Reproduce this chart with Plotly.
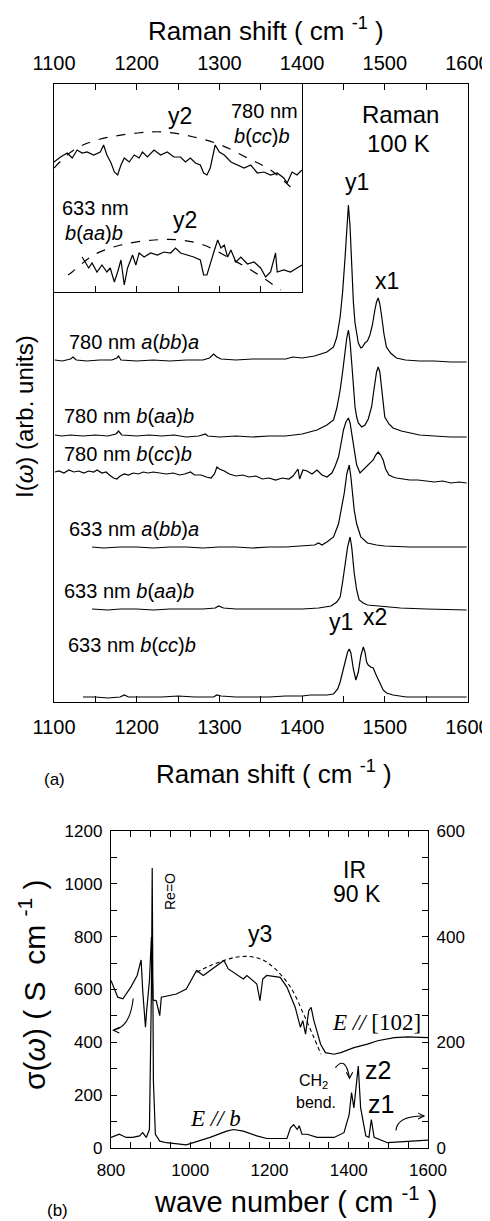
import plotly.graph_objects as go

# The page body has an 8 px margin, so the figure is 8 px smaller and every
# reference position is shifted by -8 px.
OFF = 8
W, H = 490 - OFF, 1221 - OFF
FONT = "Arial, Liberation Sans, sans-serif"
SERIF = "Times New Roman, Liberation Serif, serif"

# ---------------- Panel (a): Raman, 100 K (arbitrary units, offset traces) -------------
r780_abba_x = [1101,1110,1120,1123,1127,1140,1155,1170,1176,1178,1181,1200,1220,1240,1260,1280,1288,1293,1297,1302,
               1320,1340,1360,1380,1389,1400,1415,1422,1430,1438,1442,1446,1449,1452,1454,1456,1458,1460,1462,1464,
               1466,1468,1471,1473,1476,1479,1482,1485,1488,1490,1492,1494,1496,1499,1502,1507,1514,1525,1542,1560,1580,1599]
r780_abba_y = [342,341,343,345,342,341,342,342,344,346,342,341,342,341,342,342,344,348,345,343,
               342,343,343,343,345,344,346,348,350,355,365,385,410,445,475,497,475,429,400,379,
               367,359,354,355,359,361,367,377,392,400,404,398,387,368,355,349,344,342,341,341,340,340]

r780_baab_x = [1101,1110,1120,1135,1150,1165,1175,1178,1182,1200,1215,1230,1245,1260,1275,1283,1286,1300,1320,1340,
               1360,1380,1400,1418,1430,1438,1442,1446,1449,1452,1454,1456,1458,1460,1462,1464,1466,1468,1472,1476,
               1480,1484,1487,1490,1492,1494,1496,1498,1500,1505,1510,1520,1530,1542,1560,1580,1599]
r780_baab_y = [267,266,267,266,267,266,268,271,267,266,267,266,267,265,266,268,266,265,266,265,
               266,266,268,272,277,282,294,312,330,352,364,372,360,339,315,295,285,279,275,277,
               283,295,313,330,335,330,315,298,285,278,274,271,269,267,266,265,265]

r780_bccb_x = [1101,1106,1112,1118,1124,1130,1136,1142,1148,1152,1158,1163,1167,1172,1176,1180,1185,1190,1196,1202,
               1208,1214,1220,1228,1236,1244,1252,1258,1265,1270,1278,1284,1290,1294,1297,1300,1306,1312,1320,1328,
               1336,1344,1352,1360,1368,1376,1384,1389,1393,1395,1397,1401,1406,1412,1418,1424,1430,1436,1440,1444,
               1447,1450,1453,1456,1458,1460,1463,1466,1470,1474,1478,1482,1486,1489,1492,1495,1498,1501,1505,1510,
               1514,1522,1530,1540,1550,1560,1570,1580,1590,1599]
r780_bccb_y = [230,231,229,232,230,231,229,231,230,232,229,230,227,224,223,226,228,227,229,228,
               230,229,230,229,228,229,227,228,230,227,227,225,224,228,235,233,231,228,226,227,
               225,226,223,224,222,224,223,226,231,233,223,232,231,228,232,227,225,229,236,245,
               258,272,280,284,279,269,252,237,229,232,235,238,242,247,250,247,242,233,227,225,
               224,223,222,222,221,220,221,219,220,219]

r633_abba_x = [1146,1160,1180,1200,1220,1240,1260,1280,1300,1320,1340,1360,1380,1400,1415,1420,1424,1430,1438,1444,
               1448,1451,1454,1457,1459,1461,1463,1466,1471,1479,1490,1500,1530,1560,1599]
r633_abba_y = [155,154,155,155,154,155,155,154,155,155,154,155,155,156,157,159,157,160,165,178,
               195,209,228,237,225,205,192,178,165,159,157,156,155,155,155]

r633_baab_x = [1146,1165,1180,1200,1220,1240,1260,1280,1295,1299,1305,1320,1340,1360,1380,1400,1420,1435,1442,1446,
               1449,1452,1455,1458,1460,1463,1466,1469,1474,1479,1490,1519,1550,1599]
r633_baab_y = [93,92,93,93,92,93,93,93,94,96,94,93,93,93,93,93,94,96,100,105,
               120,139,155,165,155,129,112,102,99,97,96,94,93,92]

r633_bccb_x = [1135,1150,1165,1180,1185,1190,1210,1230,1250,1270,1293,1297,1302,1320,1340,1360,1380,1400,1410,1420,
               1430,1438,1443,1446,1449,1452,1455,1457,1459,1462,1465,1468,1471,1474,1476,1478,1480,1483,1486,1489,
               1494,1498,1502,1510,1526,1560,1599]
r633_bccb_y = [5,5,4,5,7,5,5,5,6,5,5,7,6,5,5,5,6,6,7,7,
               7,8,13,20,30,42,50,53,49,33,22,30,46,55,50,40,37,35,34,28,
               19,12,9,7,5,5,5]

# ---------------- Inset: enlarged 1100-1400 region --------------------------------------
ins780_x = [1100,1108,1116,1122,1128,1134,1140,1148,1156,1160,1164,1169,1173,1177,1181,1185,1191,1197,1203,1207,
            1213,1221,1229,1237,1245,1253,1259,1265,1271,1277,1281,1285,1289,1293,1295,1300,1306,1314,1322,1330,
            1338,1346,1354,1362,1370,1378,1382,1388,1394,1400]
ins780_y = [130,135,139,134,142,139,140,137,140,147,137,129,120,117,127,134,130,137,134,140,
            135,142,137,140,135,135,130,134,129,127,119,117,124,140,147,140,137,130,127,124,
            127,119,120,117,119,114,109,120,117,122]
ins780_fit_x = [1100,1124,1152,1201,1233,1269,1302,1334,1362,1386]
ins780_fit_y = [124,142,152,159,160,155,147,134,122,105]

ins633_x = [1134,1138,1142,1146,1152,1158,1164,1168,1173,1177,1181,1185,1189,1195,1199,1203,1209,1217,1225,1233,
            1241,1247,1253,1261,1269,1277,1281,1285,1289,1293,1298,1302,1306,1310,1314,1320,1326,1334,1342,1350,
            1356,1362,1368,1370,1378,1386,1394,1400]
ins633_y = [35,30,24,29,20,27,20,24,10,20,32,7,24,37,27,39,35,39,37,40,
            39,44,39,37,35,32,17,17,27,39,52,44,47,35,42,30,35,28,30,24,
            15,20,39,20,22,20,24,27]
ins633_fit_x = [1117,1122,1148,1181,1221,1253,1281,1310,1342,1374]
ins633_fit_y = [17,20,37,47,52,52,47,35,20,2]

# ---------------- Panel (b): IR, 90 K ---------------------------------------------------
ir_102_x = [800,817,830,850,866,876,880,887,890,897,902,906,914,923,927,965,990,1016,1033,1050,
            1085,1096,1134,1143,1168,1176,1183,1193,1227,1244,1265,1278,1284,1291,1299,1305,1312,1329,1341,1363,
            1380,1413,1447,1473,1515,1549,1600]
ir_102_y = [634,571,565,609,653,712,596,457,520,634,800,560,558,501,571,583,602,672,653,672,
            710,678,640,653,621,558,640,653,646,609,532,457,482,431,520,532,482,393,361,355,
            361,380,393,406,418,421,418]
ir_fit_x = [1016,1050,1085,1115,1147,1180,1210,1253,1286,1312,1330]
ir_fit_y = [665,690,710,722,725,714,684,609,507,418,355]

ir_b_x = [800,821,838,855,872,880,889,897,902,904,907,912,923,940,990,1007,1050,1092,1109,1134,
          1168,1193,1244,1253,1261,1270,1275,1282,1295,1320,1363,1388,1401,1407,1413,1424,1430,1443,1451,1457,
          1464,1498,1600]
ir_b_y = [20,26,20,20,23,29,20,35,300,530,127,26,13,10,6,10,20,32,35,32,
          23,18,18,38,44,35,42,26,26,20,20,29,63,105,76,155,76,23,20,54,
          20,10,15]

LINE = dict(color="black", width=1.2)
DASH = dict(color="black", width=1.2, dash="dash")

fig = go.Figure()
fig.add_trace(go.Scatter(x=r780_abba_x, y=r780_abba_y, mode="lines", line=LINE, xaxis="x2", yaxis="y"))
for xs, ys in [(r780_baab_x, r780_baab_y), (r780_bccb_x, r780_bccb_y), (r633_abba_x, r633_abba_y),
               (r633_baab_x, r633_baab_y), (r633_bccb_x, r633_bccb_y)]:
    fig.add_trace(go.Scatter(x=xs, y=ys, mode="lines", line=LINE, xaxis="x", yaxis="y"))
fig.add_trace(go.Scatter(x=ins780_x, y=ins780_y, mode="lines", line=LINE, xaxis="x3", yaxis="y3"))
fig.add_trace(go.Scatter(x=ins780_fit_x, y=ins780_fit_y, mode="lines", line=DASH, line_shape="spline", xaxis="x3", yaxis="y3"))
fig.add_trace(go.Scatter(x=ins633_x, y=ins633_y, mode="lines", line=LINE, xaxis="x3", yaxis="y3"))
fig.add_trace(go.Scatter(x=ins633_fit_x, y=ins633_fit_y, mode="lines", line=DASH, line_shape="spline", xaxis="x3", yaxis="y3"))
fig.add_trace(go.Scatter(x=ir_102_x, y=ir_102_y, mode="lines", line=LINE, xaxis="x4", yaxis="y4"))
fig.add_trace(go.Scatter(x=ir_fit_x, y=ir_fit_y, mode="lines", line=dict(color="black", width=1.1, dash="4px,3px"),
                         line_shape="spline", xaxis="x4", yaxis="y4"))
fig.add_trace(go.Scatter(x=ir_b_x, y=ir_b_y, mode="lines", line=LINE, xaxis="x4", yaxis="y5"))


def px(x):
    return (x - OFF) / W


def py(y):
    return 1 - (y - OFF) / H


ax_common = dict(showline=True, linecolor="black", linewidth=1.3, showgrid=False, zeroline=False,
                 ticks="inside", tickcolor="black", ticklen=6, tickwidth=1.2, automargin=False,
                 ticklabeloverflow="allow")
plain_y = dict(showline=True, mirror=True, linecolor="black", linewidth=1.3, showgrid=False, zeroline=False,
               ticks="", showticklabels=False, automargin=False)

raman_ticks = dict(range=[1100, 1600], tickmode="linear", tick0=1100, dtick=100,
                   minor=dict(dtick=50, ticks="inside", ticklen=6, tickcolor="black", tickwidth=1.2),
                   tickfont=dict(size=20, family=FONT, color="black"))
ir_minor = dict(ticks="inside", ticklen=6, tickcolor="black", tickwidth=1.1)
ir_font = dict(size=17, family=FONT, color="black")

fig.update_layout(
    template="none",
    width=W, height=H, autosize=False,
    margin=dict(l=0, r=0, t=0, b=0, pad=0),
    paper_bgcolor="white", plot_bgcolor="rgba(0,0,0,0)",
    showlegend=False,
    font=dict(family=FONT, color="black"),
    xaxis=dict(domain=[px(54), px(467.5)], anchor="y", side="bottom", ticklabelstandoff=7, **raman_ticks, **ax_common),
    xaxis2=dict(overlaying="x", anchor="y", side="top", ticklabelstandoff=5, **raman_ticks, **ax_common),
    yaxis=dict(domain=[py(702), py(84)], anchor="x", range=[0, 618], **plain_y),
    xaxis3=dict(domain=[px(54), px(302)], anchor="y3", range=[1100, 1400], tickmode="linear", tick0=1100,
                dtick=50, showticklabels=False, mirror=True, **ax_common),
    yaxis3=dict(domain=[py(292), py(84)], anchor="x3", range=[0, 208], **plain_y),
    xaxis4=dict(domain=[px(111), px(428)], anchor="y4", range=[800, 1600], tickmode="linear", tick0=800, dtick=200,
                minor=dict(dtick=50, **ir_minor), mirror="allticks", ticklabelstandoff=6,
                tickfont=ir_font, **ax_common),
    yaxis4=dict(domain=[py(1148), py(831)], anchor="x4", range=[0, 1200], tickmode="linear", tick0=0, dtick=200,
                minor=dict(dtick=100, **ir_minor), side="left", ticklabelstandoff=4,
                tickfont=ir_font, **ax_common),
    yaxis5=dict(overlaying="y4", anchor="x4", side="right", range=[0, 600], tickmode="linear", tick0=0, dtick=200,
                minor=dict(dtick=50, **ir_minor), ticklabelstandoff=4,
                tickfont=ir_font, **ax_common),
)

ann = []


def txt(t, x, y, size, xanchor="center", angle=0, family=FONT):
    ann.append(dict(text=t, x=px(x), y=py(y), xref="paper", yref="paper", showarrow=False,
                    xanchor=xanchor, yanchor="middle", textangle=angle,
                    font=dict(size=size, family=family, color="black")))


# panel (a) texts
txt("Raman shift ( cm <sup>-1</sup> )", 266, 30, 26)
txt("Raman shift ( cm <sup>-1</sup> )", 274, 772, 26)
txt("(a)", 54, 779, 17)
txt("I(<i>ω</i>) (arb. units)", 24, 417, 24, angle=-90)
txt("Raman", 400, 114, 24)
txt("100 K", 398, 143, 24)
txt("y1", 357, 182, 23)
txt("x1", 387, 281, 23)
txt("y1", 341, 622, 23)
txt("x2", 375, 617, 23)
txt("y2", 180, 116, 23)
txt("780 nm", 264, 111, 20)
txt("<i>b</i>(<i>cc</i>)<i>b</i>", 262, 136, 20)
txt("633 nm", 95, 208, 20)
txt("<i>b</i>(<i>aa</i>)<i>b</i>", 94, 233, 20)
txt("y2", 185, 220, 23)
txt("780 nm <i>a</i>(<i>bb</i>)<i>a</i>", 67, 342, 20, xanchor="left")
txt("780 nm <i>b</i>(<i>aa</i>)<i>b</i>", 62, 416, 20, xanchor="left")
txt("780 nm <i>b</i>(<i>cc</i>)<i>b</i>", 62, 454, 20, xanchor="left")
txt("633 nm <i>a</i>(<i>bb</i>)<i>a</i>", 67, 529, 20, xanchor="left")
txt("633 nm <i>b</i>(<i>aa</i>)<i>b</i>", 62, 591, 20, xanchor="left")
txt("633 nm <i>b</i>(<i>cc</i>)<i>b</i>", 66, 645, 20, xanchor="left")

# panel (b) texts
txt("wave number ( cm <sup>-1</sup> )", 295, 1200, 29)
txt("(b)", 57, 1210, 17)
txt("σ(<i>ω</i>) ( S  cm <sup>-1</sup> )", 32, 985, 30, angle=-90)
txt("IR", 354, 870, 23)
txt("90 K", 357, 894, 23)
txt("Re=O", 170, 892, 14, angle=-90)
txt("y3", 260, 934, 23)
txt("CH<sub>2</sub>", 313, 1081, 16)
txt("bend.", 316, 1102, 16)
txt("z2", 378, 1070, 25)
txt("z1", 381, 1104, 25)
txt("<i>E // </i>[102]", 376, 1022, 23, family=SERIF)
txt("<i>E // b</i>", 215, 1118, 23, family=SERIF)

# curved arrows with open heads (panel b), drawn in data coordinates of the left IR axis
arrow_paths = [
    "M 856,566 Q 848,455 806,446",
    "M 821,457 L 806,446 L 821,435",
    "M 1366,304 Q 1392,352 1402,264",
    "M 1394,287 L 1402,264 L 1410,287",
    "M 1519,66 Q 1522,122 1590,121",
    "M 1575,132 L 1590,121 L 1575,110",
]
shapes = [dict(type="path", path=p, xref="x4", yref="y4", line=dict(color="black", width=1.1))
          for p in arrow_paths]

fig.update_layout(annotations=ann, shapes=shapes)
fig.write_html("out.html")
